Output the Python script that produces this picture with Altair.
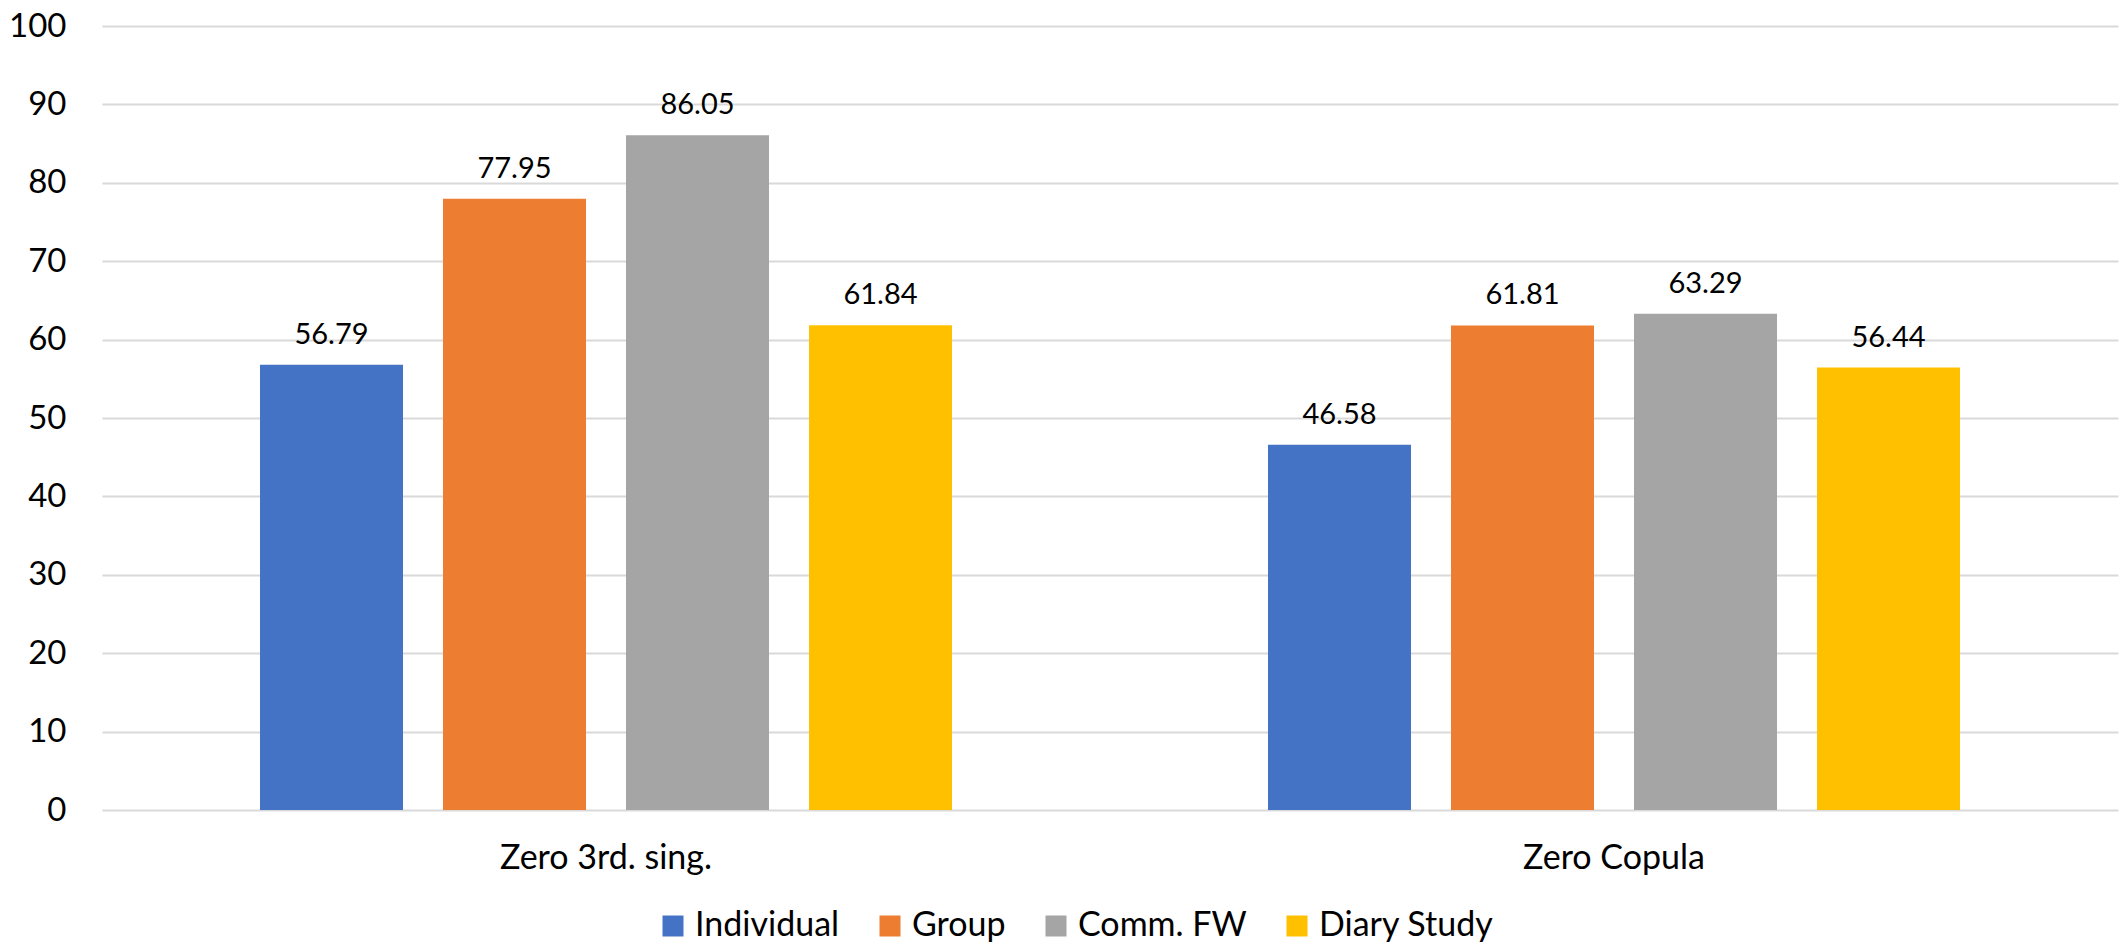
import altair as alt
import pandas as pd

# Categories, series and values
categories = ["Zero 3rd. sing.", "Zero Copula"]
series = ["Individual", "Group", "Comm. FW", "Diary Study"]
colors = ["#4472C4", "#ED7D31", "#A5A5A5", "#FFC000"]
individual = [56.79, 46.58]
group = [77.95, 61.81]
comm_fw = [86.05, 63.29]
diary_study = [61.84, 56.44]

values_by_series = {
    "Individual": individual,
    "Group": group,
    "Comm. FW": comm_fw,
    "Diary Study": diary_study,
}

rows = []
for s in series:
    for c, v in zip(categories, values_by_series[s]):
        rows.append({"category": c, "series": s, "value": v})
df = pd.DataFrame(rows)

FONT = "Lato"

x_enc = alt.X(
    "category:N",
    sort=categories,
    title=None,
    scale=alt.Scale(paddingInner=0, paddingOuter=0),
    axis=alt.Axis(
        labelAngle=0,
        labelFont=FONT,
        labelFontSize=34,
        labelColor="#000000",
        labelPadding=31,
        labelLimit=0,
        ticks=False,
        domain=False,
        grid=False,
    ),
)
x_off = alt.XOffset(
    "series:N",
    sort=series,
    scale=alt.Scale(domain=series, paddingInner=0.2186, paddingOuter=0.8634),
)
y_enc = alt.Y(
    "value:Q",
    title=None,
    scale=alt.Scale(domain=[0, 100], nice=False),
    axis=alt.Axis(
        values=list(range(0, 101, 10)),
        labelFont=FONT,
        labelFontSize=33,
        labelColor="#000000",
        labelPadding=36,
        ticks=False,
        domain=False,
        grid=True,
        gridColor="#D9D9D9",
        gridWidth=2,
    ),
)

bars = alt.Chart(df).mark_bar().encode(
    x=x_enc,
    xOffset=x_off,
    y=y_enc,
    color=alt.Color(
        "series:N",
        sort=series,
        scale=alt.Scale(domain=series, range=colors),
        legend=alt.Legend(
            title=None,
            orient="none",
            direction="horizontal",
            legendX=554,
            legendY=883,
            symbolType="square",
            symbolSize=441,
            symbolStrokeWidth=0,
            symbolOpacity=1,
            labelFont=FONT,
            labelFontSize=34,
            labelColor="#000000",
            labelOffset=5,
            labelLimit=0,
            columnPadding=33,
        ),
    ),
)

labels = alt.Chart(df).mark_text(
    font=FONT,
    fontSize=29,
    color="#000000",
    baseline="alphabetic",
    dy=-21,
).encode(
    x=alt.X("category:N", sort=categories),
    xOffset=alt.XOffset("series:N", sort=series),
    y=alt.Y("value:Q"),
    text=alt.Text("value:Q", format=".2f"),
)

chart = (
    alt.layer(bars, labels)
    .properties(
        width=2016,
        height=784,
        autosize=alt.AutoSizeParams(type="none"),
        padding={"left": 102, "top": 26, "right": 9, "bottom": 136},
        background="white",
    )
    .configure_view(stroke=None)
)

chart.save("out.html", embed_options={"renderer": "svg", "actions": False})
